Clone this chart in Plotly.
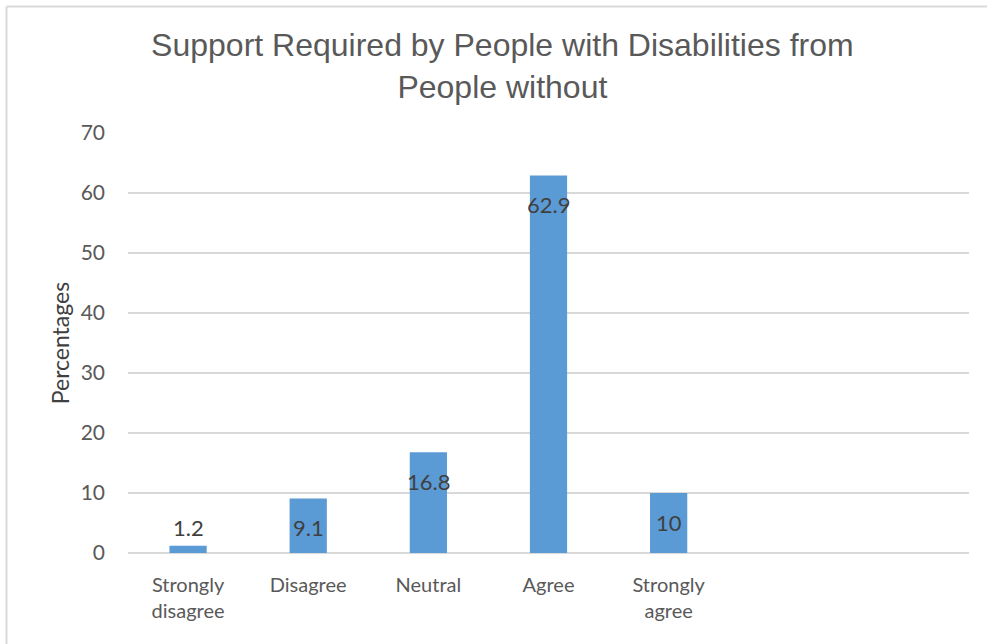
import plotly.graph_objects as go

categories = ["Strongly<br>disagree", "Disagree", "Neutral", "Agree", "Strongly<br>agree"]
values = [1.2, 9.1, 16.8, 62.9, 10]
labels = ["1.2", "9.1", "16.8", "62.9", "10"]
y_ticks = [0, 10, 20, 30, 40, 50, 60, 70]
n_slots = 7  # category slots on the axis (last two empty)

FONT = "Lato, 'Open Sans', sans-serif"
xs = list(range(len(categories)))

fig = go.Figure()
fig.add_trace(go.Bar(
    x=xs, y=values, width=0.31,
    marker=dict(color="#5B9BD5", line=dict(width=0)),
    hoverinfo="skip", showlegend=False,
))

for x, v, t in zip(xs, values, labels):
    inside = v > 5
    fig.add_annotation(
        x=x, y=v, text=t, showarrow=False, xref="x", yref="y",
        yanchor="middle", yshift=-29 if inside else 18,
        font=dict(family=FONT, size=22, color="#404040"),
    )

# outer chart frame (top and left edges visible)
fig.add_shape(type="line", xref="paper", yref="paper",
              x0=-0.1445, x1=1.03, y0=1.301, y1=1.301,
              line=dict(color="#d9d9d9", width=2))
fig.add_shape(type="line", xref="paper", yref="paper",
              x0=-0.1445, x1=-0.1445, y0=-0.25, y1=1.301,
              line=dict(color="#d9d9d9", width=2))

fig.update_layout(
    width=987, height=644,
    margin=dict(l=128, r=18, t=133, b=91),
    paper_bgcolor="white", plot_bgcolor="white",
    title=dict(
        text="Support Required by People with Disabilities from<br>People without",
        x=0.509, xanchor="center", xref="container", y=0.913, yanchor="middle",
        font=dict(family="'Liberation Sans', Arial, sans-serif",
                  size=32, color="#595959"),
    ),
    xaxis=dict(
        range=[-0.5, n_slots - 0.5],
        tickvals=xs, ticktext=categories,
        showgrid=False, zeroline=False, showline=False, ticks="",
        ticklabelstandoff=18,
        tickfont=dict(family=FONT, size=20, color="#595959"),
    ),
    yaxis=dict(
        range=[0, 70], tickvals=y_ticks,
        showgrid=True, gridcolor="#d9d9d9", gridwidth=1.5,
        zeroline=True, zerolinecolor="#d9d9d9", zerolinewidth=1.5,
        showline=False, ticks="", ticklabelstandoff=22,
        tickfont=dict(family=FONT, size=21, color="#595959"),
        title=dict(text="Percentages", standoff=4,
                   font=dict(family=FONT, size=23, color="#404040")),
    ),
)

fig.write_html("out.html")
